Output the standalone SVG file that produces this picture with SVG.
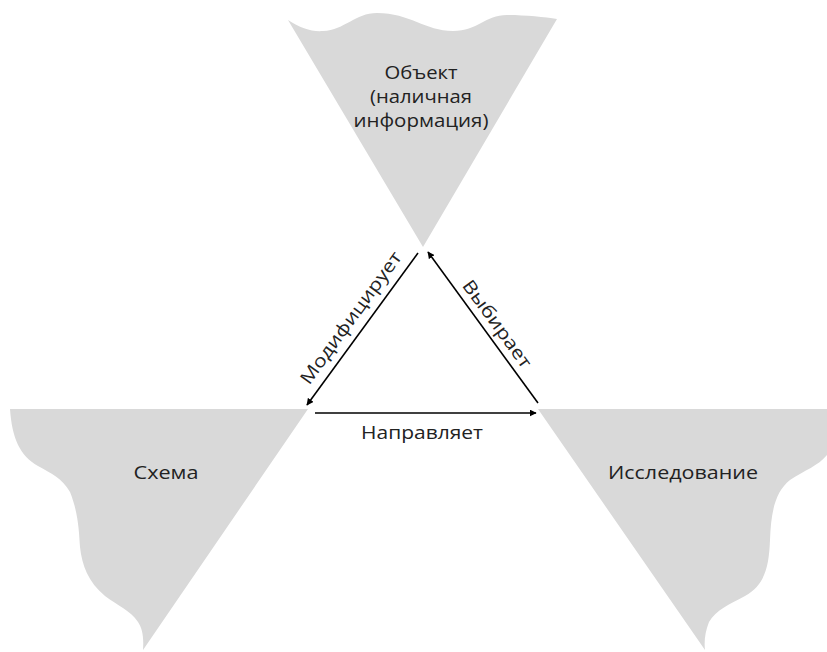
<svg xmlns="http://www.w3.org/2000/svg" width="827" height="652" viewBox="0 0 827 652">
<style>
.shape{fill:#d9d9d9;stroke:none}
.lbl{font-family:"Open Sans","Liberation Sans",sans-serif;font-size:18px;fill:#222;text-anchor:middle}
.conn{stroke:#000;stroke-width:1.6;fill:none;marker-end:url(#ah)}
</style>
<defs>
<marker id="ah" viewBox="0 0 10 10" refX="9" refY="5" markerWidth="7" markerHeight="7" markerUnits="userSpaceOnUse" orient="auto">
<path d="M0,0 L10,5 L0,10 Z" fill="#000"/>
</marker>
</defs>
<rect width="827" height="652" fill="#fff"/>
<g id="node-object">
<path class="shape" d="M288,20 C300,28 312,32 323,31 C345,30 355,13 377,13 C410,13 425,31 453,31 C478,31 485,15 507,15 C525,15 545,17 557,19 L423,247 Z"/>
<text class="lbl" x="421" y="79" textLength="73" lengthAdjust="spacingAndGlyphs">Объект</text>
<text class="lbl" x="421" y="103" textLength="102" lengthAdjust="spacingAndGlyphs">(наличная</text>
<text class="lbl" x="421" y="127" textLength="135" lengthAdjust="spacingAndGlyphs">информация)</text>
</g>
<g id="node-scheme">
<path class="shape" d="M10,409 L308,409 L143,650 C144,636 142,628 138,622 C130,610 118,606 105,596 C88,582 82,565 80,547 C79,530 78,512 70,492 C62,478 52,474 38,466 C20,456 12,438 10,409 Z"/>
<text class="lbl" x="166" y="479" textLength="65" lengthAdjust="spacingAndGlyphs">Схема</text>
</g>
<g id="node-research">
<path class="shape" d="M538,409 L827,409 L827,455 C818,466 805,470 790,480 C775,492 771,512 770,540 C769,566 765,585 745,596 C730,604 716,610 709,622 C705,632 704,642 705,650 Z"/>
<text class="lbl" x="683" y="479" textLength="150" lengthAdjust="spacingAndGlyphs">Исследование</text>
</g>
<g id="connectors">
<line class="conn" x1="418" y1="253" x2="307" y2="405"/>
<line class="conn" x1="538" y1="403" x2="428" y2="252"/>
<line class="conn" x1="315" y1="413" x2="536" y2="413"/>
<text class="lbl" x="422" y="439" textLength="122" lengthAdjust="spacingAndGlyphs">Направляет</text>
<text class="lbl" transform="translate(351,318) rotate(-54)" x="0" y="6" textLength="159" lengthAdjust="spacingAndGlyphs">Модифицирует</text>
<text class="lbl" transform="translate(497,324) rotate(54)" x="0" y="6" textLength="104" lengthAdjust="spacingAndGlyphs">Выбирает</text>
</g>
</svg>
